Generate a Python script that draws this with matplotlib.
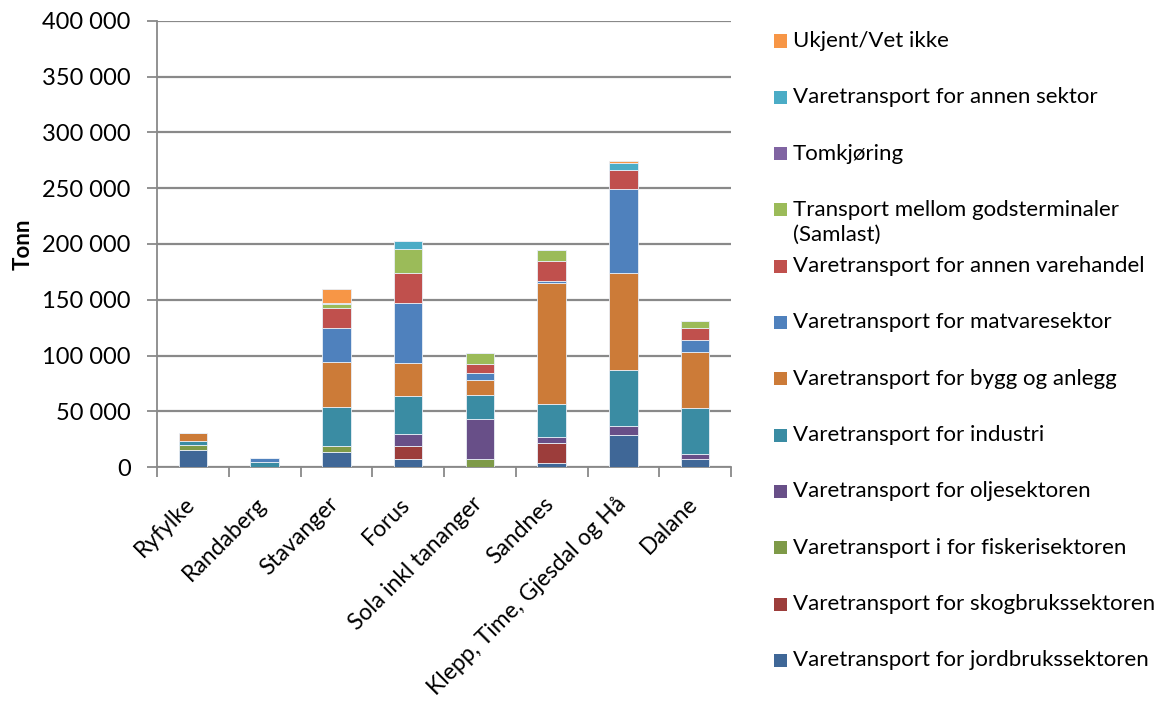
import numpy as np
import matplotlib.pyplot as plt
from matplotlib.patches import Rectangle
from matplotlib.ticker import FuncFormatter, MultipleLocator

plt.rcParams['font.family'] = ['Lato', 'DejaVu Sans']

regions = ['Ryfylke', 'Randaberg', 'Stavanger', 'Forus', 'Sola inkl tananger',
           'Sandnes', 'Klepp, Time, Gjesdal og Hå', 'Dalane']

# stacked bottom -> top
series_names = [
    'Varetransport for jordbrukssektoren',
    'Varetransport for skogbrukssektoren',
    'Varetransport i for fiskerisektoren',
    'Varetransport for oljesektoren',
    'Varetransport for industri',
    'Varetransport for bygg og anlegg',
    'Varetransport for matvaresektor',
    'Varetransport for annen varehandel',
    'Transport mellom godsterminaler\n(Samlast)',
    'Tomkjøring',
    'Varetransport for annen sektor',
    'Ukjent/Vet ikke',
]

jordbruk   = [15000, 0, 13500, 6900, 0, 3300, 29100, 6900]
skogbruk   = [0, 0, 0, 11900, 0, 17900, 0, 0]
fiskeri    = [4500, 0, 5700, 0, 7200, 0, 0, 0]
olje       = [0, 0, 0, 11000, 36100, 5900, 8100, 4500]
industri   = [3600, 4500, 34600, 34100, 21500, 29000, 50200, 41800]
bygg       = [7400, 0, 40700, 29000, 13200, 108500, 86400, 50200]
matvare    = [0, 3500, 30500, 53800, 6000, 1800, 75300, 10200]
varehandel = [0, 0, 17300, 27200, 8600, 18500, 17000, 11300]
samlast    = [0, 0, 4200, 21200, 9600, 9300, 0, 5700]
tomkjoring = [0, 0, 0, 0, 0, 0, 0, 0]
annen      = [0, 0, 900, 7500, 0, 0, 6500, 0]
ukjent     = [0, 0, 12600, 0, 0, 0, 2200, 0]

series = [jordbruk, skogbruk, fiskeri, olje, industri, bygg, matvare,
          varehandel, samlast, tomkjoring, annen, ukjent]

colors = ['#3F6797', '#9C3D3B', '#7E9A48', '#684F88', '#3A8CA3', '#CC7B38',
          '#4F81BD', '#C0504D', '#9BBB59', '#8064A2', '#4BACC6', '#F79646']

W, H = 1157, 706
fig = plt.figure(figsize=(W / 100, H / 100), dpi=100)
ax = fig.add_axes([157 / W, 1 - 467 / H, (731 - 157) / W, (467 - 21) / H])

x = np.arange(len(regions))
bottom = np.zeros(len(regions))
for vals, col in zip(series, colors):
    vals = np.array(vals, dtype=float)
    ax.bar(x, vals, width=0.4, bottom=bottom, color=col,
           edgecolor='#E8EEF6', linewidth=0.6, zorder=3)
    bottom += vals

ax.set_xlim(-0.5, len(regions) - 0.5)
ax.set_ylim(0, 400000)
ax.yaxis.set_major_locator(MultipleLocator(50000))
ax.yaxis.set_major_formatter(FuncFormatter(lambda v, p: f'{int(v):,}'.replace(',', ' ')))
ax.grid(axis='y', color='#898989', linewidth=1.6, zorder=0)

# labels sit a little left of the bar centre, as in the Excel original
ax.set_xticks(x - 0.12)
ax.set_xticklabels(regions, rotation=45, ha='right', rotation_mode='anchor',
                   fontsize=16.5)
ax.set_xticks(np.arange(-0.5, len(regions)), minor=True)
ax.tick_params(axis='x', which='major', length=0, pad=19)
ax.tick_params(axis='x', which='minor', length=7, width=1.3, color='#898989')
ax.tick_params(axis='y', length=7, width=1.3, color='#898989', pad=12,
               labelsize=17)

for s in ['top', 'right']:
    ax.spines[s].set_visible(False)
for s in ['left', 'bottom']:
    ax.spines[s].set_color('#898989')
    ax.spines[s].set_linewidth(1.3)

ax.set_ylabel('Tonn', fontsize=16, fontweight='bold', labelpad=6)

# legend, drawn top -> bottom in reverse stack order
for i, (name, col) in enumerate(zip(series_names[::-1], colors[::-1])):
    yc = 41 + i * 56.3
    fig.patches.append(Rectangle((774 / W, 1 - (yc + 6.5) / H), 13 / W, 13 / H,
                                 transform=fig.transFigure, facecolor=col,
                                 edgecolor='none'))
    lines = name.split('\n')
    for j, line in enumerate(lines):
        fig.text(793 / W, 1 - (yc + j * 25) / H, line, fontsize=16,
                 va='center', ha='left')

fig.savefig('out.png', dpi=100)
